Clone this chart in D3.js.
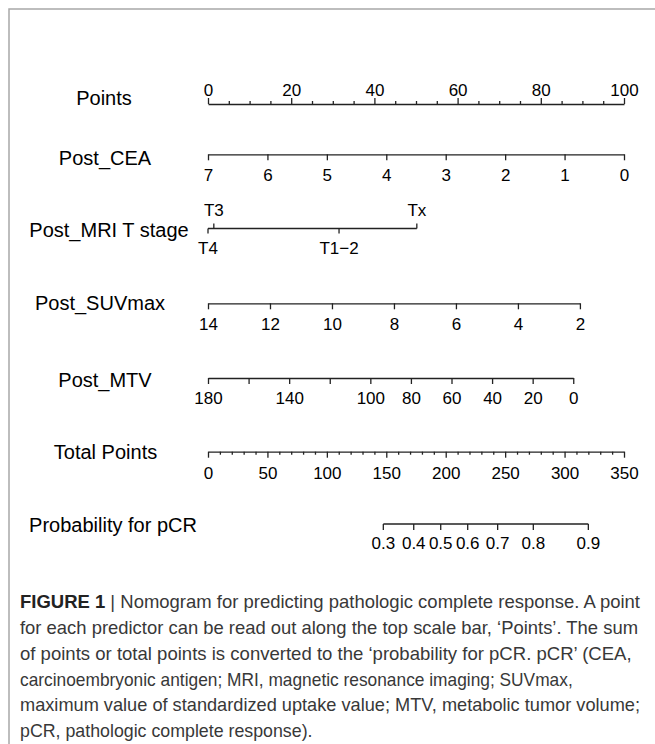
<!DOCTYPE html>
<html>
<head>
<meta charset="utf-8">
<script src="https://cdn.jsdelivr.net/npm/d3@7"></script>
<style>
  html, body { margin: 0; padding: 0; background: #fff; }
  svg { display: block; }
</style>
</head>
<body>
<div id="nomogram"></div>
<script>
// ===================== data
var pointsMajor = [0, 20, 40, 60, 80, 100];
var pointsMinor = [5, 10, 15, 25, 30, 35, 45, 50, 55, 65, 70, 75, 85, 90, 95];

var ceaTicks = [7, 6, 5, 4, 3, 2, 1, 0];
var ceaDomain = [7, 0];          // value range
var ceaPoints = [0, 100];        // points at ends

var mriLabels = ["T4", "T3", "T1\u22122", "Tx"];
var mriPoints = [0, 1.4, 31.5, 50.2];
var mriAbove = ["T3", "Tx"];

var suvTicks = [14, 12, 10, 8, 6, 4, 2];
var suvDomain = [14, 2];
var suvPoints = [0, 89.4];

var mtvTicks = [180, 160, 140, 120, 100, 80, 60, 40, 20, 0];
var mtvLabels = [180, 140, 100, 80, 60, 40, 20, 0];
var mtvDomain = [180, 0];
var mtvPoints = [0, 87.8];

var totalMajor = [0, 50, 100, 150, 200, 250, 300, 350];
var totalMinor = [10, 20, 30, 40, 60, 70, 80, 90, 110, 120, 130, 140, 160, 170, 180, 190,
                  210, 220, 230, 240, 260, 270, 280, 290, 310, 320, 330, 340];

var probLabels = [0.3, 0.4, 0.5, 0.6, 0.7, 0.8, 0.9];
var probTotal = [147.5, 173.1, 195.8, 218.5, 243.7, 273.7, 320];

var rowNames = ["Points", "Post_CEA", "Post_MRI T stage", "Post_SUVmax", "Post_MTV",
                "Total Points", "Probability for pCR"];

var captionLines = [
  "Nomogram for predicting pathologic complete response. A point",
  "for each predictor can be read out along the top scale bar, \u2018Points\u2019. The sum",
  "of points or total points is converted to the \u2018probability for pCR. pCR\u2019 (CEA,",
  "carcinoembryonic antigen; MRI, magnetic resonance imaging; SUVmax,",
  "maximum value of standardized uptake value; MTV, metabolic tumor volume;",
  "pCR, pathologic complete response)."
];

// ===================== layout
var W = 655, H = 744;
var lineY = [104, 154.3, 228.5, 303.3, 378, 451.7, 524];
var labelY = [105, 164.7, 237.3, 310, 386.7, 459.3, 532];
var labelX = [104, 105, 109, 100, 105, 105.5, 113];
var ink = "#222";
var font = "'Liberation Sans', Arial, Helvetica, sans-serif";
var tickFont = 17;

var svg = d3.select("#nomogram")
  .append("svg")
  .attr("width", W)
  .attr("height", H);

// frame
svg.append("path")
  .attr("d", "M9," + H + "V9H" + W)
  .attr("fill", "none")
  .attr("stroke", "#a8a8a8")
  .attr("stroke-width", 1.5);

var x = d3.scaleLinear()
  .domain([0, 100])
  .range([208, 624]);

function style(g, ty) {
  g.attr("font-family", font).attr("font-size", tickFont);
  g.selectAll("path.domain").attr("stroke", ink).attr("stroke-width", 1.3);
  g.selectAll(".tick line").attr("stroke", ink).attr("stroke-width", 1.3);
  g.selectAll(".tick text").attr("fill", "#000").attr("y", ty).attr("dy", null);
  return g;
}

function noDomain(g) {
  g.select("path.domain").remove();
  return g;
}

// ===== Points
svg.append("g")
  .attr("transform", "translate(0," + lineY[0] + ")")
  .call(d3.axisTop(x).tickValues(pointsMajor).tickSize(6).tickSizeOuter(0))
  .call(style, -8.5);
svg.append("g")
  .attr("transform", "translate(0," + lineY[0] + ")")
  .call(d3.axisTop(x).tickValues(pointsMinor).tickSize(3).tickFormat(""))
  .call(noDomain).call(style, 0);

// ===== generic variable axis
function varAxis(row, domain, pts, ticks, fmt) {
  var s = d3.scaleLinear().domain(domain).range(pts.map(x));
  var g = svg.append("g")
    .attr("transform", "translate(0," + lineY[row] + ")")
    .call(d3.axisBottom(s).tickValues(ticks).tickSize(6).tickSizeOuter(0)
      .tickFormat(fmt || d3.format("")))
    .call(style, 26.3);
  return g;
}

varAxis(1, ceaDomain, ceaPoints, ceaTicks);
varAxis(3, suvDomain, suvPoints, suvTicks);
varAxis(4, mtvDomain, mtvPoints, mtvTicks, function (d) {
  return mtvLabels.indexOf(d) >= 0 ? d : "";
});

// ===== MRI T stage (categorical)
var mriScale = d3.scaleOrdinal().domain(mriLabels).range(mriPoints.map(x));
var mriX = function (d) { return mriScale(d); };
var mriBelow = mriLabels.filter(function (d) { return mriAbove.indexOf(d) < 0; });
var mriG = svg.append("g").attr("transform", "translate(0," + lineY[2] + ")")
  .attr("font-family", font).attr("font-size", tickFont);
mriG.append("line")
  .attr("x1", d3.min(mriPoints.map(x))).attr("x2", d3.max(mriPoints.map(x)))
  .attr("stroke", ink).attr("stroke-width", 1.3);
var up = mriG.selectAll("g.up").data(mriAbove).join("g")
  .attr("transform", function (d) { return "translate(" + mriX(d) + ",0)"; });
up.append("line").attr("y2", -5).attr("stroke", ink).attr("stroke-width", 1.3);
up.append("text").attr("y", -12.5).attr("text-anchor", "middle").text(function (d) { return d; });
var dn = mriG.selectAll("g.dn").data(mriBelow).join("g")
  .attr("transform", function (d) { return "translate(" + mriX(d) + ",0)"; });
dn.append("line").attr("y2", 5).attr("stroke", ink).attr("stroke-width", 1.3);
dn.append("text").attr("y", 25.5).attr("text-anchor", "middle").text(function (d) { return d; });

// ===== Total Points
var xt = d3.scaleLinear().domain([0, 350]).range([208, 624]);
svg.append("g")
  .attr("transform", "translate(0," + lineY[5] + ")")
  .call(d3.axisBottom(xt).tickValues(totalMajor).tickSize(6).tickSizeOuter(0))
  .call(style, 27.3);
svg.append("g")
  .attr("transform", "translate(0," + lineY[5] + ")")
  .call(d3.axisBottom(xt).tickValues(totalMinor).tickSize(3).tickFormat(""))
  .call(noDomain).call(style, 0);

// ===== Probability
var probAxis = d3.scaleOrdinal().domain(probLabels).range(probTotal.map(xt));
var pg = svg.append("g").attr("transform", "translate(0," + lineY[6] + ")")
  .attr("font-family", font).attr("font-size", tickFont);
pg.append("line")
  .attr("x1", probAxis(probLabels[0])).attr("x2", probAxis(probLabels[probLabels.length - 1]))
  .attr("stroke", ink).attr("stroke-width", 1.3);
var pt = pg.selectAll("g.t").data(probLabels).join("g")
  .attr("transform", function (d) { return "translate(" + probAxis(d) + ",0)"; });
pt.append("line").attr("y2", 6).attr("stroke", ink).attr("stroke-width", 1.3);
pt.append("text").attr("y", 25).attr("text-anchor", "middle").text(function (d) { return d3.format(".1f")(d); });

// ===== row labels
svg.selectAll("text.row").data(rowNames).join("text")
  .attr("class", "row")
  .attr("x", function (d, i) { return labelX[i]; })
  .attr("y", function (d, i) { return labelY[i]; })
  .attr("text-anchor", "middle")
  .attr("font-family", font)
  .attr("font-size", 20)
  .attr("fill", "#000")
  .text(function (d) { return d; });

// ===== caption (line widths fitted to the original text block)
var capY = [608, 634, 660, 685.5, 711, 736.5];
var capW = [620, 618, 611.6, 552.7, 620, 292.5];
var cap = svg.append("g").attr("font-family", font).attr("font-size", 18.2).attr("fill", "#383838");
cap.selectAll("text").data(captionLines).join("text")
  .attr("x", 20)
  .attr("y", function (d, i) { return capY[i]; })
  .attr("textLength", function (d, i) { return capW[i]; })
  .attr("lengthAdjust", "spacingAndGlyphs")
  .each(function (d, i) {
    var t = d3.select(this);
    if (i === 0) {
      t.append("tspan").attr("font-weight", "bold").attr("fill", "#222").text("FIGURE 1");
      t.append("tspan").text(" | " + d);
    } else {
      t.text(d);
    }
  });
</script>
</body>
</html>
